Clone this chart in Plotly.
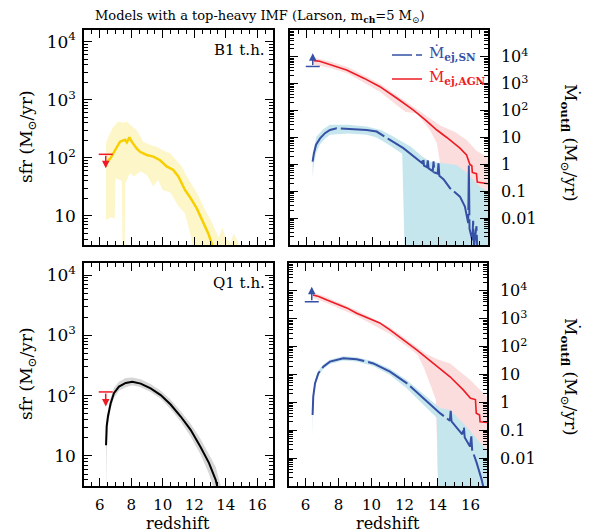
import math
import plotly.graph_objects as go

W, H = 604, 532

# ---------------- data ----------------
# Top-left: B1 t.h. star formation rate
b1_z = [6.40, 6.54, 6.70, 6.97, 7.29, 7.60, 7.72, 7.88, 8.03, 8.34, 8.56, 8.98, 9.40, 9.83,
        10.25, 10.67, 10.99, 11.41, 11.73, 12.16, 12.57, 12.89, 13.10, 13.25]
b1_sfr = [81, 91, 100, 135, 190, 205, 185, 225, 190, 145, 127, 112, 105, 91,
          71, 62, 48, 28, 21, 13.5, 7.9, 5.0, 3.4, 2.5]
b1_hi_z = [6.40, 6.60, 6.85, 7.18, 7.50, 7.71, 8.00, 8.34, 8.77, 9.20, 9.61, 10.05, 10.46, 10.88,
           11.20, 11.52, 12.16, 12.79, 13.10, 13.32, 13.55, 13.80, 14.00, 14.30, 14.50, 14.80, 15.00]
b1_hi = [178, 250, 340, 420, 400, 420, 355, 300, 190, 166, 155, 132, 120, 91,
         71, 48, 25, 11.2, 8.0, 5.8, 4.2, 6.3, 4.0, 3.5, 5.0, 3.5, 2.0]
b1_lo_z = [6.40, 6.70, 6.95, 7.00, 7.40, 7.45, 7.58, 7.62, 7.90, 8.20, 8.60, 9.00, 9.40, 9.70,
           10.00, 10.50, 11.00, 11.40, 11.80, 12.00, 15.00]
b1_lo = [8.5, 9.5, 9.0, 45, 40, 2.0, 2.0, 36, 54, 48, 59, 50, 32, 42,
         28, 25, 14.5, 11.2, 4.4, 2.0, 2.0]

# Top-right: B1 outflow rates
b1_sn_z = [6.37, 6.45, 6.58, 6.82, 7.12, 7.42, 7.83, 8.64, 9.65, 10.25, 10.65, 11.06, 11.87, 12.68,
           13.00, 13.08, 13.12, 13.30, 13.35, 13.40, 13.65, 13.70, 13.75, 13.95, 14.00, 14.05,
           14.30, 14.70, 15.30, 15.60, 15.80, 15.84, 15.88, 16.05, 16.10, 16.15, 16.30, 16.35]
b1_sn = [1.26, 2.6, 5.4, 9.3, 14.5, 19, 22, 21, 19, 16.6, 12, 8.1, 4.0, 1.7,
         1.12, 1.7, 0.9, 0.79, 1.4, 0.71, 0.56, 1.3, 0.5, 0.45, 1.1, 0.38,
         0.28, 0.13, 0.063, 0.027, 0.0065, 0.9, 0.004, 0.0015, 0.008, 0.0008, 0.005, 0.0007]
b1_agn_z = [6.45, 6.80, 7.50, 8.43, 9.50, 10.45, 11.50, 12.46, 13.20, 13.90, 14.50, 14.90, 15.30,
            15.70, 15.90, 16.02, 16.05, 16.30, 16.35, 17.00]
b1_agn = [7240, 6900, 5000, 3240, 1580, 776, 282, 107, 45, 19, 10, 6.3, 4.0,
          2.24, 1.0, 0.89, 0.5, 0.45, 0.22, 0.19]
b1_agn_hi_z = [6.45, 7.5, 8.5, 10.45, 12.46, 13.5, 14.1, 15.0, 15.7, 16.3, 17.0]
b1_agn_hi = [9500, 6600, 4200, 1000, 141, 50, 28, 16, 8, 3.2, 1.8]
b1_agn_lo_z = [6.45, 7.5, 8.5, 10.45, 12.0, 12.68, 13.48, 13.9, 14.1, 14.2, 17.0]
b1_agn_lo = [5250, 3800, 2400, 500, 89, 80, 19, 6.2, 1.1, 0.0005, 0.0005]
b1_sn_hi_z = [6.37, 6.45, 6.6, 7.0, 7.42, 8.5, 9.65, 10.5, 11.06, 12.3, 13.0, 13.5, 14.3, 15.1,
              15.7, 16.5, 17.0]
b1_sn_hi = [1.8, 4.0, 10.7, 20, 29.5, 29.5, 25.7, 19, 12.6, 4.6, 2.0, 1.26, 1.1, 0.95,
            0.5, 0.148, 0.1]
b1_sn_lo_z = [6.37, 6.45, 6.6, 6.82, 7.12, 7.42, 8.5, 9.65, 10.25, 11.06, 11.80, 11.95, 17.0]
b1_sn_lo = [0.35, 1.12, 2.8, 5.6, 8.9, 12.6, 14, 12.6, 10, 5.0, 2.5, 0.0005, 0.0005]

# Bottom-left: Q1 t.h. star formation rate
q1_z = [6.40, 6.44, 6.52, 6.69, 6.90, 7.22, 7.65, 8.07, 8.60, 9.23, 9.87, 10.50, 11.14, 11.77,
        12.40, 12.94, 13.36, 13.45, 13.60]
q1_sfr = [15, 31, 45, 74, 110, 141, 162, 170, 158, 132, 102, 71, 45, 27,
          14, 7.6, 4.0, 3.2, 2.2]
q1_hi_z = [6.40, 6.44, 6.52, 6.69, 6.90, 7.22, 7.65, 8.07, 8.60, 9.23, 9.87, 10.50, 11.14, 11.77,
           12.40, 12.94, 13.36, 13.68, 14.00]
q1_hi = [18, 38, 56, 91, 135, 170, 195, 200, 186, 155, 120, 85, 55, 34,
         19, 10.5, 6.6, 3.2, 2.0]
q1_lo_z = [6.40, 6.44, 6.52, 6.69, 6.90, 7.22, 7.65, 8.07, 8.60, 9.23, 9.87, 10.50, 11.14, 11.77,
           12.40, 12.94, 13.30]
q1_lo = [2.0, 12.6, 32, 60, 91, 120, 138, 148, 138, 115, 89, 60, 37, 21,
         10.5, 5.0, 2.5]

# Bottom-right: Q1 outflow rates
q1_sn_z = [6.43, 6.47, 6.58, 6.78, 7.08, 7.48, 8.29, 9.10, 10.11, 11.12, 12.13, 13.14, 14.15,
           14.75, 14.80, 14.85, 15.16, 15.50, 15.60, 15.65, 15.97, 16.05, 16.10, 16.38, 16.68, 16.80]
q1_sn = [0.35, 1.6, 4.9, 11.2, 19, 29, 38, 35.5, 25, 12.6, 4.9, 1.41, 0.41,
         0.22, 0.5, 0.21, 0.12, 0.071, 0.13, 0.055, 0.026, 0.06, 0.02, 0.0066, 0.00166, 0.0008]
q1_agn_z = [6.45, 6.80, 7.30, 8.50, 9.10, 10.50, 11.12, 12.50, 12.74, 13.75, 14.76, 15.56, 16.00,
            16.30, 16.35, 16.55, 16.58, 17.00]
q1_agn = [7080, 6300, 4680, 2450, 1580, 708, 398, 100, 76, 25, 8.3, 2.8, 1.41,
          1.26, 0.41, 0.35, 0.2, 0.19]
q1_agn_hi_z = [6.45, 7.3, 9.1, 11.12, 12.74, 13.3, 14.0, 14.76, 15.97, 16.97, 17.0]
q1_agn_hi = [8900, 5900, 2000, 500, 100, 56, 35, 25, 6.5, 1.6, 1.6]
q1_agn_lo_z = [6.45, 7.3, 9.1, 11.12, 12.5, 12.8, 13.2, 13.6, 13.9, 14.05, 17.0]
q1_agn_lo = [5600, 3700, 1260, 282, 71, 50, 16, 4.0, 1.26, 0.0005, 0.0005]
q1_sn_hi_z = [6.43, 6.47, 6.58, 6.78, 7.08, 7.48, 8.29, 9.10, 10.11, 11.12, 12.13, 13.14, 14.15,
              14.76, 15.97, 16.5, 17.0]
q1_sn_hi = [0.5, 2.2, 6.3, 14, 23, 34, 45, 42, 30, 16, 6.3, 2.0, 0.63, 0.54, 0.1, 0.04, 0.02]
q1_sn_lo_z = [6.43, 6.47, 6.58, 6.78, 7.08, 7.48, 8.29, 9.10, 10.11, 11.12, 12.13, 13.14, 13.6,
              13.95, 14.05, 17.0]
q1_sn_lo = [0.05, 1.26, 4.0, 8.9, 16, 24, 32, 29.5, 20, 9.5, 3.2, 0.8, 0.45, 0.28, 0.0005, 0.0005]

# Observational limits (z ~ 6.4 quasar)
limit_z = 6.38
sfr_limit_cap = [115, 115]      # B1, Q1 upper limits
sfr_limit_tip = [66, 66]
out_limit_cap = [4400, 4070]    # B1, Q1 lower limits
out_limit_tip = [13500, 14100]

x_ticks = [6, 8, 10, 12, 14, 16]
sfr_tickvals = [10, 100, 1000, 10000]
sfr_ticktext = ["10", "10<sup>2</sup>", "10<sup>3</sup>", "10<sup>4</sup>"]
out_tickvals = [1e4, 1e3, 1e2, 10, 1, 0.1, 0.01]
out_ticktext = ["10<sup>4</sup>", "10<sup>3</sup>", "10<sup>2</sup>", "10", "1", "0.1", "0.01"]

# ---------------- styles ----------------
FONT = "DejaVu Serif"
YEL, YEL_BAND = "#f7cf00", "#fdf6c8"
BLUE, BLUE_BAND = "#3550a4", "#c6e6ee"
RED, PINK = "#ee1b24", "#fbdddd"
BLACK, GRAY = "#000000", "#d6d6d6"


def band(zh, hi, zl, lo, color, xa, ya):
    return go.Scatter(x=list(zh) + list(zl)[::-1], y=list(hi) + list(lo)[::-1],
                      fill="toself", fillcolor=color, line=dict(width=0), mode="lines",
                      xaxis=xa, yaxis=ya, showlegend=False, hoverinfo="skip")


def line(z, v, color, width, xa, ya, dash="solid"):
    return go.Scatter(x=z, y=v, mode="lines", line=dict(color=color, width=width, dash=dash),
                      xaxis=xa, yaxis=ya, showlegend=False)


fig = go.Figure()
# TL
fig.add_trace(band(b1_hi_z, b1_hi, b1_lo_z, b1_lo, YEL_BAND, "x", "y"))
fig.add_trace(line(b1_z, b1_sfr, YEL, 2.5, "x", "y"))
# TR
fig.add_trace(band(b1_agn_hi_z, b1_agn_hi, b1_agn_lo_z, b1_agn_lo, PINK, "x2", "y2"))
fig.add_trace(band(b1_sn_hi_z, b1_sn_hi, b1_sn_lo_z, b1_sn_lo, BLUE_BAND, "x2", "y2"))
fig.add_trace(line(b1_sn_z, b1_sn, BLUE, 2, "x2", "y2", dash="45px,4px"))
fig.add_trace(line(b1_agn_z, b1_agn, RED, 1.6, "x2", "y2"))
# BL
fig.add_trace(band(q1_hi_z, q1_hi, q1_lo_z, q1_lo, GRAY, "x3", "y3"))
fig.add_trace(line(q1_z, q1_sfr, BLACK, 2, "x3", "y3"))
# BR
fig.add_trace(band(q1_agn_hi_z, q1_agn_hi, q1_agn_lo_z, q1_agn_lo, PINK, "x4", "y4"))
fig.add_trace(band(q1_sn_hi_z, q1_sn_hi, q1_sn_lo_z, q1_sn_lo, BLUE_BAND, "x4", "y4"))
fig.add_trace(line(q1_sn_z, q1_sn, BLUE, 2, "x4", "y4", dash="45px,4px"))
fig.add_trace(line(q1_agn_z, q1_agn, RED, 1.6, "x4", "y4"))

annotations = []
# limit markers
for i, (xa, ya) in enumerate([("x", "y"), ("x3", "y3")]):
    fig.add_trace(go.Scatter(x=[limit_z], y=[sfr_limit_cap[i]], mode="markers",
                             marker=dict(symbol="line-ew", size=10, line=dict(color=RED, width=1.5)),
                             xaxis=xa, yaxis=ya, showlegend=False))
    annotations.append(dict(x=limit_z, y=math.log10(sfr_limit_tip[i]), ax=limit_z,
                            ay=math.log10(sfr_limit_cap[i]), xref=xa, yref=ya, axref=xa, ayref=ya,
                            text="", showarrow=True, arrowhead=2, arrowsize=1, arrowwidth=1.5,
                            arrowcolor=RED))
for i, (xa, ya) in enumerate([("x2", "y2"), ("x4", "y4")]):
    fig.add_trace(go.Scatter(x=[limit_z], y=[out_limit_cap[i]], mode="markers",
                             marker=dict(symbol="line-ew", size=10, line=dict(color=BLUE, width=1.5)),
                             xaxis=xa, yaxis=ya, showlegend=False))
    annotations.append(dict(x=limit_z, y=math.log10(out_limit_tip[i]), ax=limit_z,
                            ay=math.log10(out_limit_cap[i]), xref=xa, yref=ya, axref=xa, ayref=ya,
                            text="", showarrow=True, arrowhead=2, arrowsize=1, arrowwidth=1.5,
                            arrowcolor=BLUE))


def px(x):
    return x / W


def py(y):
    return 1 - y / H


panels = {
    "1": ([84, 273], [30, 245]),
    "2": ([290, 488], [30, 245]),
    "3": ([84, 273], [263, 486]),
    "4": ([289, 487], [263, 486]),
}

minor_left = [m * 10 ** k for k in range(0, 5) for m in range(2, 10)]
minor_right = [m * 10.0 ** k for k in range(-3, 5) for m in range(2, 10)]

axis_common = dict(showline=True, linecolor="black", linewidth=1.5, mirror="allticks",
                   ticks="inside", tickcolor="black", showgrid=False, zeroline=False)
layout = dict(width=W, height=H, margin=dict(l=0, r=0, t=0, b=0),
              paper_bgcolor="white", plot_bgcolor="white",
              font=dict(family=FONT, color="black"), showlegend=False)

for key, (xr, yr) in panels.items():
    xn = "xaxis" if key == "1" else "xaxis" + key
    yn = "yaxis" if key == "1" else "yaxis" + key
    anchor_x = "y" if key == "1" else "y" + key
    anchor_y = "x" if key == "1" else "x" + key
    bottom = key in ("3", "4")
    right = key in ("2", "4")
    layout[xn] = dict(axis_common, domain=[px(xr[0]), px(xr[1])], anchor=anchor_x,
                      range=[5, 17], tickmode="array", tickvals=x_ticks, ticklen=8, tickwidth=1.2,
                      showticklabels=bottom, tickfont=dict(size=15, family=FONT),
                      ticklabelstandoff=4,
                      minor=dict(ticks="inside", dtick=0.5, tick0=5, ticklen=4,
                                 tickcolor="black", tickwidth=1))
    if right:
        layout[yn] = dict(axis_common, domain=[py(yr[1]), py(yr[0])], anchor=anchor_y,
                          type="log", range=[-3, 5], tickmode="array", tickvals=out_tickvals,
                          ticktext=out_ticktext, side="right", ticklen=8, tickwidth=1.2,
                          tickfont=dict(size=16, family=FONT), ticklabelstandoff=8,
                          minor=dict(ticks="inside", tickmode="array", tickvals=minor_right,
                                     ticklen=4, tickcolor="black", tickwidth=1))
    else:
        layout[yn] = dict(axis_common, domain=[py(yr[1]), py(yr[0])], anchor=anchor_y,
                          type="log", range=[0.5, 4.2], tickmode="array", tickvals=sfr_tickvals,
                          ticktext=sfr_ticktext, ticklen=8, tickwidth=1.2,
                          tickfont=dict(size=17, family=FONT), ticklabelstandoff=3,
                          minor=dict(ticks="inside", tickmode="array", tickvals=minor_left,
                                     ticklen=4, tickcolor="black", tickwidth=1))


def text(x, y, s, size, color="black", angle=0, xanchor="center", yanchor="middle"):
    return dict(x=px(x), y=py(y), xref="paper", yref="paper", text=s, showarrow=False,
                font=dict(family=FONT, size=size, color=color), textangle=angle,
                xanchor=xanchor, yanchor=yanchor)


annotations += [
    text(260, 16, "Models with a top-heavy IMF (Larson, m<sub><b>ch</b></sub>=5 M<sub>⊙</sub>)", 13),
    text(267, 50, "B1 t.h.", 15, xanchor="right"),
    text(267, 283, "Q1 t.h.", 15, xanchor="right"),
    text(27, 137, "sfr (M<sub>⊙</sub>/yr)", 17, angle=-90),
    text(27, 374, "sfr (M<sub>⊙</sub>/yr)", 17, angle=-90),
    text(570, 143, "Ṁ<sub><b>outfl</b></sub> (M<sub>⊙</sub>/yr)", 17, angle=90),
    text(570, 377, "Ṁ<sub><b>outfl</b></sub> (M<sub>⊙</sub>/yr)", 17, angle=90),
    text(178, 523, "redshift", 16),
    text(388, 523, "redshift", 16),
    text(427, 53, "Ṁ<sub><b>ej,SN</b></sub>", 15, color=BLUE, xanchor="left"),
    text(427, 77, "Ṁ<sub><b>ej,AGN</b></sub>", 15, color=RED, xanchor="left"),
]
layout["annotations"] = annotations
layout["shapes"] = [
    dict(type="line", xref="paper", yref="paper", x0=px(392), x1=px(422), y0=py(55), y1=py(55),
         line=dict(color=BLUE, width=1.5, dash="20px,4px")),
    dict(type="line", xref="paper", yref="paper", x0=px(392), x1=px(422), y0=py(79), y1=py(79),
         line=dict(color=RED, width=1.5)),
]

fig.update_layout(**layout)
fig.write_html("out.html", config={"displayModeBar": False},
               post_script="document.body.style.margin='0';document.body.style.overflow='hidden';")
